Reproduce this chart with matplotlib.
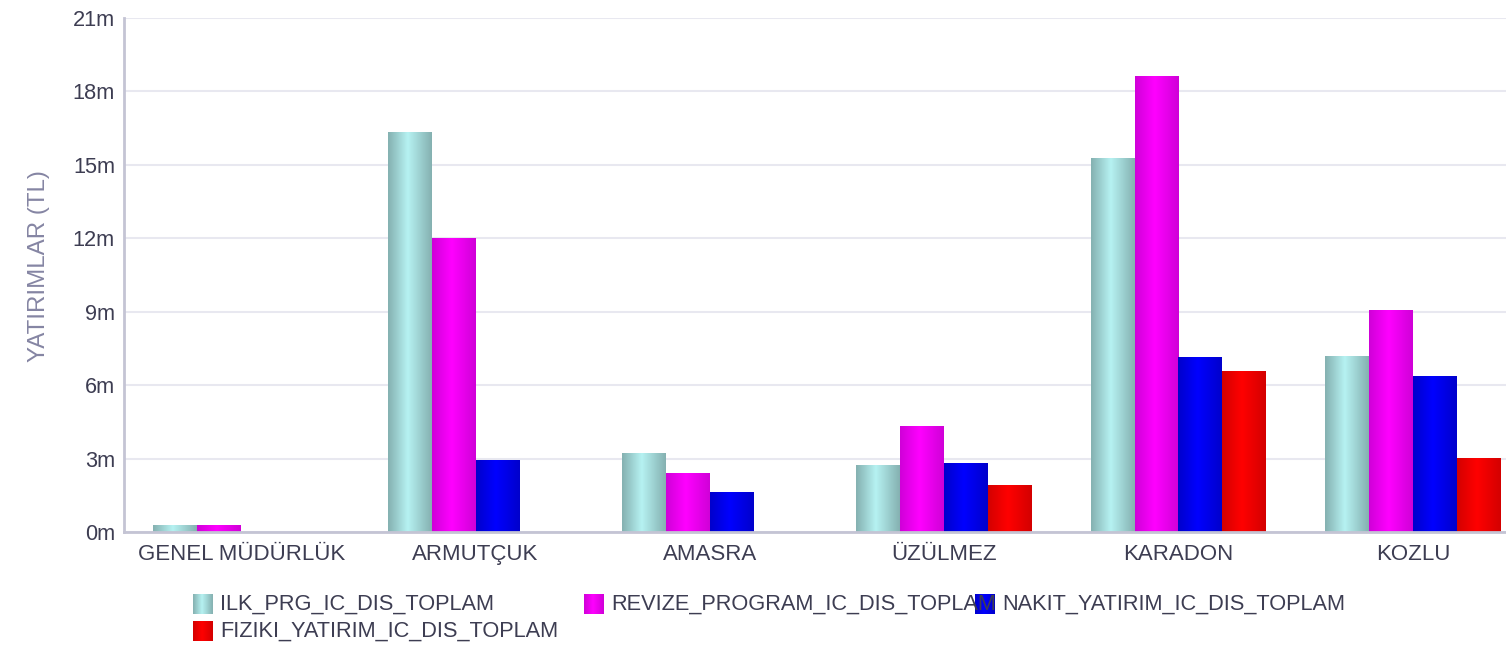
import matplotlib.pyplot as plt
import matplotlib.colors as mcolors
from matplotlib.ticker import FuncFormatter
import numpy as np

plt.rcParams['font.family'] = ['Liberation Sans', 'DejaVu Sans']

categories = ['GENEL MÜDÜRLÜK', 'ARMUTÇUK', 'AMASRA', 'ÜZÜLMEZ', 'KARADON', 'KOZLU']
series_names = ['ILK_PRG_IC_DIS_TOPLAM', 'REVIZE_PROGRAM_IC_DIS_TOPLAM',
                'NAKIT_YATIRIM_IC_DIS_TOPLAM', 'FIZIKI_YATIRIM_IC_DIS_TOPLAM']

# values in millions TL
ilk_prg = [0.25, 16.34, 3.19, 2.70, 15.28, 7.19]
revize_program = [0.25, 12.01, 2.37, 4.33, 18.63, 9.07]
nakit_yatirim = [0.0, 2.94, 1.63, 2.78, 7.11, 6.37]
fiziki_yatirim = [0.0, 0.0, 0.0, 1.88, 6.54, 3.02]
series_values = [ilk_prg, revize_program, nakit_yatirim, fiziki_yatirim]

# (edge colour, centre colour) for the horizontal shading of each series
gradients = [('#85b1b1', '#b6f2f2'),
             ('#d000d8', '#ff00ff'),
             ('#0000cc', '#0000ff'),
             ('#d40000', '#ff0000')]

text_color = '#3d3d52'


def gradient_cmap(edge, centre):
    return mcolors.LinearSegmentedColormap.from_list(
        'g', [(0.0, edge), (0.45, centre), (1.0, edge)])


grad_row = np.linspace(0, 1, 64).reshape(1, -1)

fig = plt.figure(figsize=(15.06, 6.54), dpi=100)
ax = fig.add_axes([124 / 1506, 122 / 654, 1406 / 1506, 514 / 654])

x = np.arange(len(categories))
width = 0.1877
offsets = (np.arange(4) - 1.5) * width

for i, vals in enumerate(series_values):
    bars = ax.bar(x + offsets[i], vals, width, color='none', linewidth=0, zorder=3)
    cmap = gradient_cmap(*gradients[i])
    for b in bars:
        h = b.get_height()
        if h <= 0:
            continue
        x0 = b.get_x()
        ax.imshow(grad_row, cmap=cmap, aspect='auto', zorder=3,
                  extent=(x0, x0 + b.get_width(), 0, h), interpolation='bicubic')

ax.set_xlim(-0.5, len(categories) - 0.5)
ax.set_ylim(0, 21)
ax.set_yticks(np.arange(0, 22, 3))
ax.yaxis.set_major_formatter(FuncFormatter(lambda v, p: f'{int(v)}m'))
ax.set_xticks(x)
ax.set_xticklabels(categories)

ax.tick_params(axis='y', length=0, labelsize=15.7, labelcolor=text_color, pad=6.5)
ax.tick_params(axis='x', length=0, labelsize=16, labelcolor=text_color, pad=20.5)
for lbl in ax.get_xticklabels():
    lbl.set_verticalalignment('baseline')

ax.grid(axis='y', color='#e8e8f0', linewidth=1.5, zorder=0)
ax.set_axisbelow(True)
for s in ['top', 'right']:
    ax.spines[s].set_visible(False)
for s in ['left', 'bottom']:
    ax.spines[s].set_color('#c4c4d4')
    ax.spines[s].set_linewidth(2)
    ax.spines[s].set_zorder(4)

ax.set_ylabel('YATIRIMLAR (TL)', fontsize=17.4, color='#8585a3')
ax.yaxis.set_label_coords(-0.0526, 0.5175)

# legend, laid out like the original (swatch + text), in pixels
legend_pos = [(193, 594), (584, 594), (975, 594), (193, 621)]
for i, name in enumerate(series_names):
    px, py = legend_pos[i]
    fig.text((px + 27) / 1506, (654 - py - 10) / 654, name, fontsize=15.7,
             color=text_color, va='center', ha='left')
for i, name in enumerate(series_names):
    px, py = legend_pos[i]
    lax = fig.add_axes([px / 1506, (654 - py - 20) / 654, 20 / 1506, 20 / 654])
    lax.imshow(grad_row, cmap=gradient_cmap(*gradients[i]), aspect='auto',
               interpolation='bicubic')
    lax.set_axis_off()

fig.savefig('out.png', dpi=100)
